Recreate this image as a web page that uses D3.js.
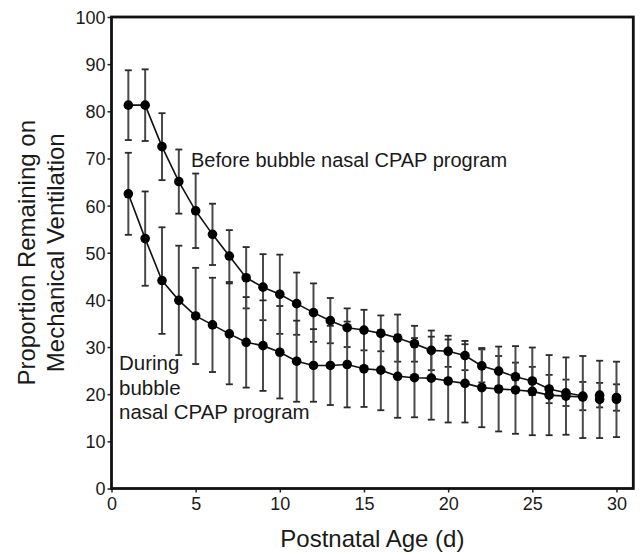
<!DOCTYPE html>
<html>
<head>
<meta charset="utf-8">
<script src="https://cdn.jsdelivr.net/npm/d3@7"></script>
<style>
  body { margin: 0; background: #fff; }
  svg text { font-family: "Liberation Sans", Arial, sans-serif; fill: #1a1a1a; }
</style>
</head>
<body>
<div id="chart"></div>
<script>
var days = d3.range(1, 31);

// Before bubble nasal CPAP program
var beforeMean = [81.3, 81.3, 72.5, 65.1, 58.9, 53.9, 49.3, 44.7, 42.7, 41.2,
                  39.2, 37.3, 35.6, 34.1, 33.6, 32.9, 31.9, 30.7, 29.3, 29.1,
                  28.2, 26.0, 24.9, 23.7, 22.8, 21.1, 20.3, 19.6, 19.8, 19.3];
var beforeErr  = [7.4, 7.6, 7.1, 6.8, 7.9, 6.5, 5.5, 6.5, 7.0, 8.4,
                  6.6, 6.2, 4.8, 4.1, 4.3, 3.8, 5.0, 3.8, 4.2, 3.3,
                  3.1, 3.5, 3.2, 3.0, 3.0, 3.0, 2.8, 3.0, 2.6, 2.8];

// During bubble nasal CPAP program
var duringMean = [62.5, 53.0, 44.1, 39.9, 36.6, 34.7, 32.8, 31.0, 30.3, 28.9,
                  27.0, 26.1, 26.1, 26.3, 25.4, 25.1, 23.8, 23.5, 23.4, 22.8,
                  22.3, 21.4, 21.1, 20.9, 20.6, 19.8, 19.6, 19.4, 18.9, 18.9];
var duringErr  = [8.7, 10.0, 11.3, 11.6, 10.2, 10.0, 10.7, 9.6, 9.6, 9.8,
                  8.6, 7.7, 8.4, 9.1, 8.1, 8.5, 8.8, 8.4, 8.8, 8.8,
                  8.3, 8.4, 9.0, 9.3, 9.3, 8.5, 8.2, 8.7, 8.2, 8.0];

var lastLinked = 28;   // lines stop at day 28, days 29-30 are loose points

var xTicks = [0, 5, 10, 15, 20, 25, 30];
var yTicks = [0, 10, 20, 30, 40, 50, 60, 70, 80, 90, 100];

var width = 640, height = 553;

var svg = d3.select("#chart").append("svg")
  .attr("width", width)
  .attr("height", height);

var x = d3.scaleLinear().domain([0, 31]).range([111.5, 633.3]);
var y = d3.scaleLinear().domain([0, 100]).range([488.5, 17]);

function toRows(mean, err) {
  return days.map(function (d, i) {
    return { day: d, v: mean[i], lo: mean[i] - err[i], hi: mean[i] + err[i] };
  });
}

var series = [toRows(beforeMean, beforeErr), toRows(duringMean, duringErr)];

// error bars
series.forEach(function (rows) {
  var g = svg.append("g");
  g.selectAll("line.bar").data(rows).enter().append("line")
    .attr("x1", function (d) { return x(d.day); })
    .attr("x2", function (d) { return x(d.day); })
    .attr("y1", function (d) { return y(d.lo); })
    .attr("y2", function (d) { return y(d.hi); })
    .attr("stroke", "#4a4a4a")
    .attr("stroke-width", 2);
  ["lo", "hi"].forEach(function (k) {
    g.selectAll("line.cap" + k).data(rows).enter().append("line")
      .attr("x1", function (d) { return x(d.day) - 3.5; })
      .attr("x2", function (d) { return x(d.day) + 3.5; })
      .attr("y1", function (d) { return y(d[k]); })
      .attr("y2", function (d) { return y(d[k]); })
      .attr("stroke", "#2a2a2a")
      .attr("stroke-width", 1.8);
  });
});

// connecting lines
var line = d3.line()
  .x(function (d) { return x(d.day); })
  .y(function (d) { return y(d.v); });

series.forEach(function (rows) {
  svg.append("path")
    .datum(rows.filter(function (d) { return d.day <= lastLinked; }))
    .attr("d", line)
    .attr("fill", "none")
    .attr("stroke", "#111")
    .attr("stroke-width", 1.6);
});

// points
series.forEach(function (rows) {
  svg.append("g").selectAll("circle").data(rows).enter().append("circle")
    .attr("cx", function (d) { return x(d.day); })
    .attr("cy", function (d) { return y(d.v); })
    .attr("r", 4.8)
    .attr("fill", "#000");
});

// axes
var xAxis = svg.append("g")
  .attr("transform", "translate(0," + y(0) + ")")
  .call(d3.axisBottom(x).tickValues(xTicks).tickSize(4).tickPadding(5));
var yAxis = svg.append("g")
  .attr("transform", "translate(" + x(0) + ",0)")
  .call(d3.axisLeft(y).tickValues(yTicks).tickSize(4).tickPadding(2));

[xAxis, yAxis].forEach(function (a) {
  a.select(".domain").remove();
  a.selectAll(".tick line").attr("stroke", "#222").attr("stroke-width", 1.5);
  a.selectAll(".tick text").style("font-size", "18px").attr("fill", "#1a1a1a");
});
yAxis.selectAll(".tick text").attr("dy", "0.36em");

// frame
svg.append("rect")
  .attr("x", x(0))
  .attr("y", y(100))
  .attr("width", x(31) - x(0))
  .attr("height", y(0) - y(100))
  .attr("fill", "none")
  .attr("stroke", "#111")
  .attr("stroke-width", 2.8);

// titles
svg.append("text")
  .attr("x", (x(0) + x(31)) / 2)
  .attr("y", 547)
  .attr("text-anchor", "middle")
  .style("font-size", "24px")
  .text("Postnatal Age (d)");

var yt = svg.append("text")
  .attr("transform", "translate(0," + ((y(0) + y(100)) / 2) + ") rotate(-90)")
  .attr("text-anchor", "middle")
  .style("font-size", "24px");
yt.append("tspan").attr("x", 0).attr("y", 35).text("Proportion Remaining on");
yt.append("tspan").attr("x", 0).attr("y", 64).text("Mechanical Ventilation");

// annotations
svg.append("text")
  .attr("x", 191)
  .attr("y", 167)
  .style("font-size", "20px")
  .text("Before bubble nasal CPAP program");

var ann = svg.append("text").style("font-size", "20.5px");
["During", "bubble", "nasal CPAP program"].forEach(function (t, i) {
  ann.append("tspan").attr("x", 119).attr("y", 370 + i * 24.5).text(t);
});
</script>
</body>
</html>
